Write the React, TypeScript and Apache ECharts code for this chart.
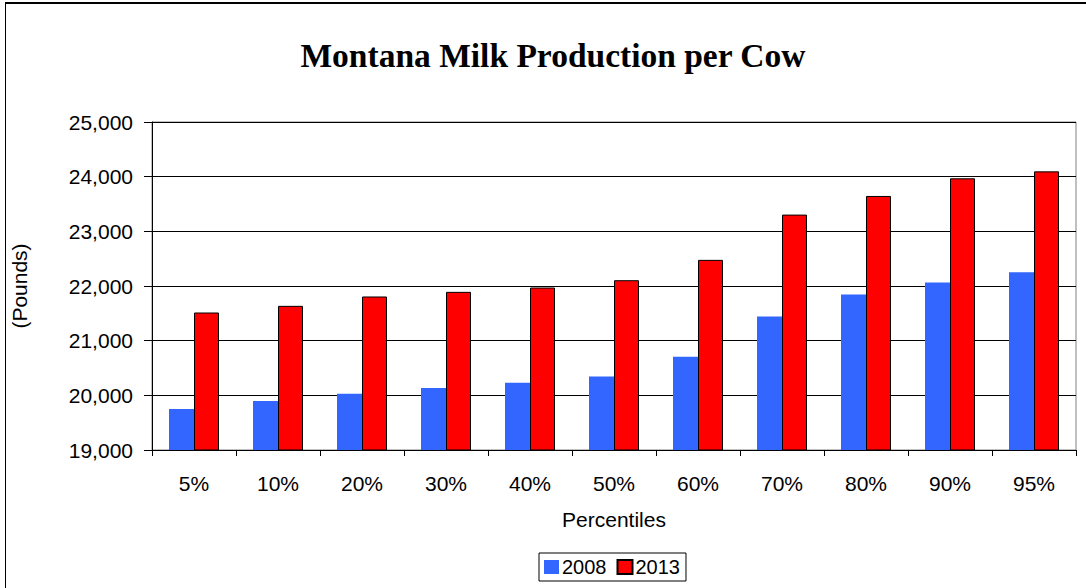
import React, { useEffect, useRef } from "react";
import * as echarts from "echarts";

const categories = ["5%", "10%", "20%", "30%", "40%", "50%", "60%", "70%", "80%", "90%", "95%"];
const values2008 = [19750, 19895, 20030, 20133, 20230, 20346, 20705, 21442, 21844, 22063, 22252];
const values2013 = [21515, 21637, 21808, 21893, 21972, 22106, 22478, 23306, 23647, 23970, 24097];
const yTicks = { min: 19000, max: 25000, interval: 1000 };
const seriesNames = ["2008", "2013"];

export default function App() {
  const ref = useRef<HTMLDivElement>(null);
  useEffect(() => {
    if (!ref.current) return;
    const chart = echarts.init(ref.current, undefined, { renderer: "svg" });
    const font = "Liberation Sans";
    chart.setOption({
      animation: false,
      backgroundColor: "#ffffff",
      title: {
        text: "Montana Milk Production per Cow",
        left: 548,
        top: 33,
        textAlign: "center",
        textStyle: {
          fontFamily: "Liberation Serif",
          fontWeight: "bold",
          fontSize: 33.5,
          color: "#000",
        },
      },
      legend: {
        data: seriesNames,
        left: 539,
        top: 553,
        padding: [4, 6, 4, 5],
        itemWidth: 15,
        itemHeight: 14,
        itemGap: 10,
        icon: "rect",
        borderColor: "#000",
        borderWidth: 1,
        textStyle: { fontFamily: font, fontSize: 20, color: "#000", padding: [0, 0, 0, -2] },
      },
      grid: {
        left: 152,
        right: 10,
        top: 122,
        bottom: 138,
        show: true,
        borderColor: "#808080",
        borderWidth: 1,
        backgroundColor: "#fff",
      },
      xAxis: {
        type: "category",
        data: categories,
        name: "Percentiles",
        nameLocation: "middle",
        nameGap: 59,
        nameTextStyle: { fontFamily: font, fontSize: 21, color: "#000", verticalAlign: "top" },
        axisLine: { lineStyle: { color: "#000", width: 1 } },
        axisTick: { show: true, length: 6, interval: 0, lineStyle: { color: "#000" } },
        axisLabel: { fontFamily: font, fontSize: 21, color: "#000", margin: 23, interval: 0 },
      },
      yAxis: {
        type: "value",
        min: yTicks.min,
        max: yTicks.max,
        interval: yTicks.interval,
        name: "(Pounds)",
        nameLocation: "middle",
        nameGap: 122,
        nameRotate: 90,
        nameTextStyle: { fontFamily: font, fontSize: 21, color: "#000" },
        axisLine: { show: true, lineStyle: { color: "#000", width: 1 } },
        axisTick: { show: true, length: 8, lineStyle: { color: "#000" } },
        axisLabel: {
          fontFamily: font,
          fontSize: 21,
          color: "#000",
          margin: 19,
          formatter: (v: number) => v.toLocaleString("en-US"),
        },
        splitLine: { show: true, lineStyle: { color: "#000", width: 1 } },
      },
      series: [
        {
          name: seriesNames[0],
          type: "bar",
          data: values2008,
          barWidth: 25,
          barGap: "0%",
          itemStyle: { color: "#3366ff" },
        },
        {
          name: seriesNames[1],
          type: "bar",
          data: values2013,
          barWidth: 25,
          barGap: "0%",
          itemStyle: { color: "#ff0000", borderColor: "#000", borderWidth: 1 },
        },
      ],
      graphic: [
        { type: "line", shape: { x1: 5, y1: 3, x2: 1086, y2: 3 }, style: { stroke: "#000", lineWidth: 2 } },
        { type: "line", shape: { x1: 5.5, y1: 2, x2: 5.5, y2: 588 }, style: { stroke: "#000", lineWidth: 1 } },
      ],
    });
    return () => chart.dispose();
  }, []);
  return (
    <div
      ref={ref}
      style={{ position: "fixed", left: 0, top: 0, width: 1086, height: 588 }}
    />
  );
}
